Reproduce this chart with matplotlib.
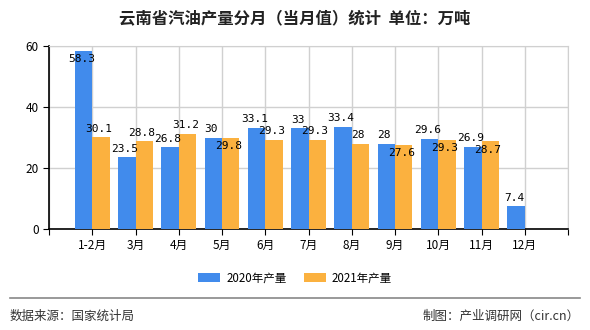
import matplotlib.pyplot as plt
import numpy as np

plt.rcParams['font.family'] = ['Noto Sans CJK SC', 'DejaVu Sans']

months = ['1-2月', '3月', '4月', '5月', '6月', '7月', '8月', '9月', '10月', '11月', '12月']
y2020 = [58.3, 23.5, 26.8, 30, 33.1, 33, 33.4, 28, 29.6, 26.9, 7.4]
y2021 = [30.1, 28.8, 31.2, 29.8, 29.3, 29.3, 28, 27.6, 29.3, 28.7, None]
# labels drawn inside the bar top (to avoid overlap), as in the original
inside2020 = [True] + [False] * 10
inside2021 = [False, False, False, True, False, False, False, True, True, True, False]

blue = '#418bec'
orange = '#fbb13f'

fig = plt.figure(figsize=(5.9, 3.3), dpi=100)
ax = fig.add_axes([49 / 590, 1 - 229 / 330, 519 / 590, 183 / 330])

x = np.arange(1, len(months) + 1)
w = 0.4
v21 = [np.nan if v is None else v for v in y2021]
ax.bar(x - w / 2, y2020, w, color=blue, label='2020年产量', zorder=3)
ax.bar(x + w / 2, v21, w, color=orange, label='2021年产量', zorder=3)


def fmt(v):
    return ('%g' % v)


for i in range(len(months)):
    v = y2020[i]
    dy = -1.0 if inside2020[i] else 1.2
    va = 'top' if inside2020[i] else 'bottom'
    ax.text(x[i] - w / 2 - 0.05, v + dy, fmt(v), ha='center', va=va,
            fontsize=8, family='DejaVu Sans Mono', zorder=4)
    v = y2021[i]
    if v is None:
        continue
    dy = -1.0 if inside2021[i] else 1.2
    va = 'top' if inside2021[i] else 'bottom'
    ax.text(x[i] + w / 2 - 0.05, v + dy, fmt(v), ha='center', va=va,
            fontsize=8, family='DejaVu Sans Mono', zorder=4)

ax.set_xlim(0, 12)
ax.set_ylim(0, 60)
ax.set_yticks([0, 20, 40, 60])
ax.set_xticks(np.arange(0, 13))
ax.set_xticklabels([''] + months + [''], fontsize=8.5)
ax.tick_params(axis='y', labelsize=8.5, length=4, color='black')
ax.tick_params(axis='x', length=4, color='black')
ax.grid(True, color='#d0d0d0', linewidth=1, zorder=0)
for s in ['top', 'right']:
    ax.spines[s].set_color('#d0d0d0')
for s in ['left', 'bottom']:
    ax.spines[s].set_color('black')
    ax.spines[s].set_linewidth(1.2)

fig.text(0.5, 1 - 18 / 330, '云南省汽油产量分月（当月值）统计  单位：万吨', ha='center', va='center',
         fontsize=11.8, fontweight='bold', color='#222222')

fig.legend(loc='center', bbox_to_anchor=(0.5, 1 - 278 / 330), ncol=2, frameon=False,
           fontsize=8.3, handlelength=1.9, handleheight=0.85, handletextpad=0.5,
           columnspacing=1.5)

fig.add_artist(plt.Line2D([10 / 590, 580 / 590], [1 - 298 / 330] * 2, color='#888888', linewidth=1.2))
fig.text(10 / 590, 1 - 316 / 330, '数据来源：国家统计局', ha='left', va='center', fontsize=9, color='#333333')
fig.text(580 / 590, 1 - 316 / 330, '制图：产业调研网（cir.cn）', ha='right', va='center', fontsize=9, color='#333333')

fig.savefig('out.png', dpi=100)
